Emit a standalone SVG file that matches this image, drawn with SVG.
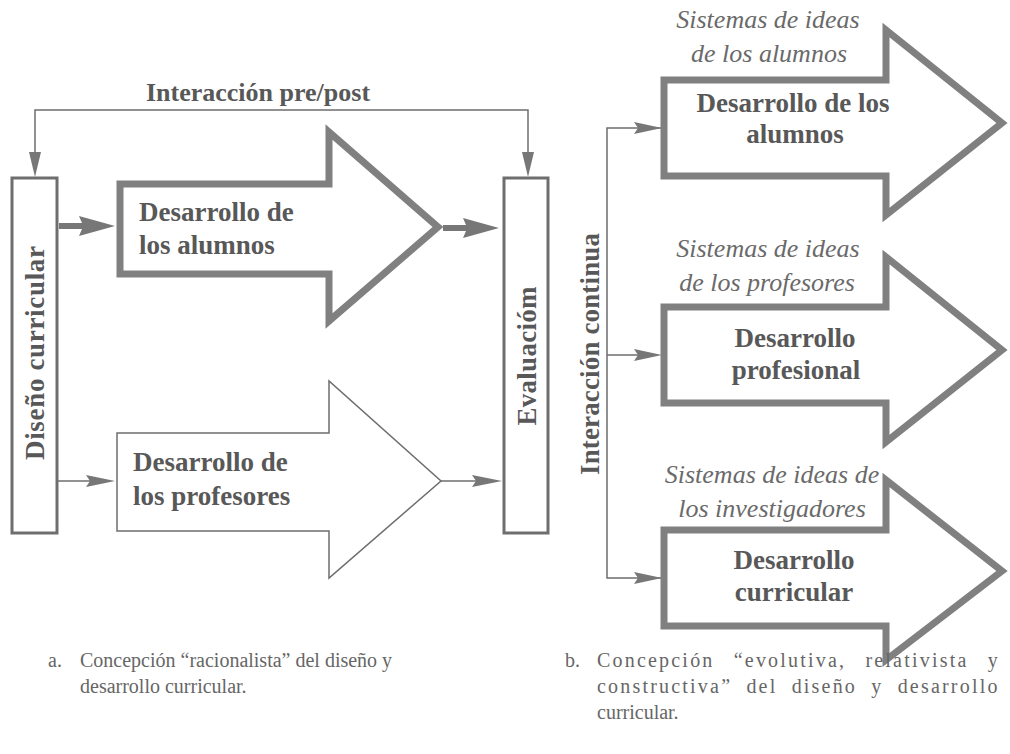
<svg xmlns="http://www.w3.org/2000/svg" width="1010" height="754" viewBox="0 0 1010 754">
<style>
.bg{fill:#fff}
.thick{fill:#fff;stroke:#808080;stroke-width:7;stroke-linejoin:miter}
.thin{fill:#fff;stroke:#6e6e6e;stroke-width:1.5;stroke-linejoin:miter}
.box{fill:#fff;stroke:#6e6e6e;stroke-width:3}
.line{fill:none;stroke:#6e6e6e;stroke-width:1.5}
.head{fill:#777;stroke:none}
.lbl{font-family:"Liberation Serif",serif;font-weight:bold;font-size:27px;fill:#585858}
.ital{font-family:"Liberation Serif",serif;font-style:italic;font-size:26px;fill:#6a6a6a}
.cap{font-family:"Liberation Serif",serif;font-size:20px;fill:#666}
.just{letter-spacing:2.2px}
</style>
<rect class="bg" x="0" y="0" width="1010" height="754"/>

<g id="connectors">
  <polyline class="line" points="35,160 35,110 528,110 528,160"/>
  <polygon class="head" points="29,152 41,152 35,177"/>
  <polygon class="head" points="522,152 534,152 528,177"/>
  <polygon class="head" points="59,223 82,223 79,216 115,226 79,236 82,229 59,229"/>
  <polygon class="head" points="443,225 466,225 463,218 499,228 463,238 466,231 443,231"/>
  <line class="line" x1="58" y1="481" x2="92" y2="481"/>
  <polygon class="head" points="86,475 115,481 86,487 90,481"/>
  <line class="line" x1="441" y1="481" x2="478" y2="481"/>
  <polygon class="head" points="472,475 502,481 472,487 476,481"/>
  <polyline class="line" points="662,128 607,128 607,578 662,578"/>
  <line class="line" x1="607" y1="355" x2="640" y2="355"/>
  <polygon class="head" points="634,122 662,128 634,134 638,128"/>
  <polygon class="head" points="634,349 662,355 634,361 638,355"/>
  <polygon class="head" points="634,572 662,578 634,584 638,578"/>
</g>

<g id="label-pre-post">
  <text class="lbl" style="font-size:26px" x="258" y="101" text-anchor="middle">Interacción pre/post</text>
</g>

<g id="diseno">
  <rect class="box" x="12" y="178" width="45" height="355"/>
  <text class="lbl" transform="translate(44,353) rotate(-90)" text-anchor="middle" textLength="214">Diseño curricular</text>
</g>

<g id="evaluacion">
  <rect class="box" x="504" y="178" width="44" height="355"/>
  <text class="lbl" transform="translate(536,356) rotate(-90)" text-anchor="middle" textLength="139">Evaluacióm</text>
</g>

<g id="desarrollo-alumnos-a">
  <path class="thick" d="M120,184 H329 V132 L438,227 L329,321 V274 H120 Z"/>
  <text class="lbl" x="139" y="221">Desarrollo de</text>
  <text class="lbl" x="139" y="254">los alumnos</text>
</g>

<g id="desarrollo-profesores-a">
  <path class="thin" d="M117,433 H329 V381 L441,481 L329,578 V531 H117 Z"/>
  <text class="lbl" x="133" y="471">Desarrollo de</text>
  <text class="lbl" x="133" y="505">los profesores</text>
</g>

<g id="interaccion-continua">
  <text class="lbl" transform="translate(599,354) rotate(-90)" text-anchor="middle" textLength="242">Interacción continua</text>
</g>

<g id="desarrollo-alumnos-b">
  <path class="thick" d="M664,80 H886 V30 L1002,123 L886,215 V176 H664 Z"/>
  <text class="ital" x="768" y="28" text-anchor="middle">Sistemas de ideas</text>
  <text class="ital" x="769" y="62" text-anchor="middle">de los alumnos</text>
  <text class="lbl" x="793" y="112" text-anchor="middle">Desarrollo de los</text>
  <text class="lbl" x="795" y="143" text-anchor="middle">alumnos</text>
</g>

<g id="desarrollo-profesional-b">
  <path class="thick" d="M664,307 H886 V257 L1002,350 L886,442 V403 H664 Z"/>
  <text class="ital" x="768" y="257" text-anchor="middle">Sistemas de ideas</text>
  <text class="ital" x="767" y="291" text-anchor="middle">de los profesores</text>
  <text class="lbl" x="795" y="347" text-anchor="middle">Desarrollo</text>
  <text class="lbl" x="796" y="379" text-anchor="middle">profesional</text>
</g>

<g id="desarrollo-curricular-b">
  <path class="thick" d="M664,530 H886 V480 L1002,571 L886,660 V626 H664 Z"/>
  <text class="ital" x="772" y="483" text-anchor="middle">Sistemas de ideas de</text>
  <text class="ital" x="772" y="517" text-anchor="middle">los investigadores</text>
  <text class="lbl" x="794" y="569" text-anchor="middle">Desarrollo</text>
  <text class="lbl" x="794" y="601" text-anchor="middle">curricular</text>
</g>

<g id="caption-a">
  <text class="cap" x="48" y="667">a.</text>
  <text class="cap" x="80" y="667">Concepción “racionalista” del diseño y</text>
  <text class="cap" x="80" y="693">desarrollo curricular.</text>
</g>

<g id="caption-b">
  <text class="cap" x="565" y="667">b.</text>
  <text class="cap just" x="597" y="667" style="word-spacing:12px">Concepción “evolutiva, relativista y</text>
  <text class="cap just" x="597" y="693" style="word-spacing:7px">constructiva” del diseño y desarrollo</text>
  <text class="cap" x="597" y="719">curricular.</text>
</g>
</svg>
